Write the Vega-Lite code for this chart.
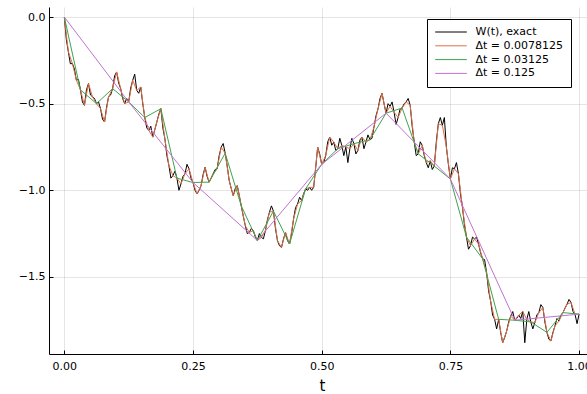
{
"$schema":"https://vega.github.io/schema/vega-lite/v6.json",
"autosize":{"type":"none"},
"padding":{"left":49,"top":7,"right":0,"bottom":40},
"width":538,"height":347,
"background":"white",
"config":{
"view":{"stroke":null},
"font":"DejaVu Sans",
"axis":{"labelFont":"DejaVu Sans","labelFontSize":11,"labelColor":"#000","domainColor":"#000","domainWidth":1,"tickColor":"#000","tickSize":-4,"gridColor":"#000","gridOpacity":0.1,"gridWidth":1,"titleFont":"DejaVu Sans","titleFontSize":15,"titleFontWeight":"normal","titleColor":"#000"},
"axisX":{"titleX":273,"titleY":36,"titleBaseline":"alphabetic","labelPadding":10},
"axisY":{"labelPadding":8},
"legend":{"labelFont":"DejaVu Sans","labelFontSize":11,"labelColor":"#000"}
},
"datasets":{
"exact":[
{"t":0,"W":0},{"t":0.00391,"W":-0.13},{"t":0.00781,"W":-0.20},{"t":0.01172,"W":-0.27},{"t":0.01563,"W":-0.268},{"t":0.01953,"W":-0.30},{"t":0.02344,"W":-0.365},{"t":0.02734,"W":-0.36},{"t":0.03125,"W":-0.42},{"t":0.03516,"W":-0.49},{"t":0.03906,"W":-0.51},{"t":0.04297,"W":-0.42},{"t":0.04688,"W":-0.384},{"t":0.05078,"W":-0.45},{"t":0.05469,"W":-0.46},{"t":0.05859,"W":-0.47},
{"t":0.0625,"W":-0.50},{"t":0.06641,"W":-0.49},{"t":0.07031,"W":-0.529},{"t":0.07422,"W":-0.59},{"t":0.07813,"W":-0.606},{"t":0.08203,"W":-0.52},{"t":0.08594,"W":-0.46},{"t":0.08984,"W":-0.45},{"t":0.09375,"W":-0.413},{"t":0.09766,"W":-0.34},{"t":0.10156,"W":-0.317},{"t":0.10547,"W":-0.38},{"t":0.10938,"W":-0.413},{"t":0.11328,"W":-0.47},{"t":0.11719,"W":-0.50},{"t":0.12109,"W":-0.47},
{"t":0.125,"W":-0.49},{"t":0.12891,"W":-0.41},{"t":0.13281,"W":-0.365},{"t":0.13672,"W":-0.33},{"t":0.14063,"W":-0.423},{"t":0.14453,"W":-0.44},{"t":0.14844,"W":-0.404},{"t":0.15234,"W":-0.50},{"t":0.15625,"W":-0.58},{"t":0.16016,"W":-0.64},{"t":0.16406,"W":-0.654},{"t":0.16797,"W":-0.63},{"t":0.17188,"W":-0.693},{"t":0.17578,"W":-0.65},{"t":0.17969,"W":-0.606},{"t":0.18359,"W":-0.56},
{"t":0.1875,"W":-0.529},{"t":0.19141,"W":-0.64},{"t":0.19531,"W":-0.702},{"t":0.19922,"W":-0.80},{"t":0.20313,"W":-0.857},{"t":0.20703,"W":-0.93},{"t":0.21094,"W":-0.915},{"t":0.21484,"W":-0.89},{"t":0.21875,"W":-0.93},{"t":0.22266,"W":-1.00},{"t":0.22656,"W":-0.963},{"t":0.23047,"W":-0.92},{"t":0.23438,"W":-0.905},{"t":0.23828,"W":-0.85},{"t":0.24219,"W":-0.876},{"t":0.24609,"W":-0.93},
{"t":0.25,"W":-0.955},{"t":0.25391,"W":-1.00},{"t":0.25781,"W":-1.021},{"t":0.26172,"W":-1.00},{"t":0.26563,"W":-0.973},{"t":0.26953,"W":-0.91},{"t":0.27344,"W":-0.867},{"t":0.27734,"W":-0.92},{"t":0.28125,"W":-0.953},{"t":0.28516,"W":-0.93},{"t":0.28906,"W":-0.905},{"t":0.29297,"W":-0.88},{"t":0.29688,"W":-0.876},{"t":0.30078,"W":-0.80},{"t":0.30469,"W":-0.751},{"t":0.30859,"W":-0.73},
{"t":0.3125,"W":-0.786},{"t":0.31641,"W":-0.86},{"t":0.32031,"W":-0.944},{"t":0.32422,"W":-0.99},{"t":0.32813,"W":-1.031},{"t":0.33203,"W":-0.99},{"t":0.33594,"W":-0.973},{"t":0.33984,"W":-1.03},{"t":0.34375,"W":-1.09},{"t":0.34766,"W":-1.15},{"t":0.35156,"W":-1.204},{"t":0.35547,"W":-1.25},{"t":0.35938,"W":-1.243},{"t":0.36328,"W":-1.22},{"t":0.36719,"W":-1.233},{"t":0.37109,"W":-1.27},
{"t":0.375,"W":-1.29},{"t":0.37891,"W":-1.25},{"t":0.38281,"W":-1.272},{"t":0.38672,"W":-1.28},{"t":0.39063,"W":-1.233},{"t":0.39453,"W":-1.17},{"t":0.39844,"W":-1.127},{"t":0.40234,"W":-1.09},{"t":0.40625,"W":-1.12},{"t":0.41016,"W":-1.22},{"t":0.41406,"W":-1.291},{"t":0.41797,"W":-1.32},{"t":0.42188,"W":-1.33},{"t":0.42578,"W":-1.28},{"t":0.42969,"W":-1.243},{"t":0.43359,"W":-1.29},
{"t":0.4375,"W":-1.31},{"t":0.44141,"W":-1.25},{"t":0.44531,"W":-1.166},{"t":0.44922,"W":-1.10},{"t":0.45313,"W":-1.079},{"t":0.45703,"W":-1.04},{"t":0.46094,"W":-1.06},{"t":0.46484,"W":-1.02},{"t":0.46875,"W":-0.992},{"t":0.47266,"W":-1.00},{"t":0.47656,"W":-0.983},{"t":0.48047,"W":-1.00},{"t":0.48438,"W":-0.983},{"t":0.48828,"W":-0.87},{"t":0.49219,"W":-0.751},{"t":0.49609,"W":-0.79},
{"t":0.5,"W":-0.85},{"t":0.50391,"W":-0.84},{"t":0.50781,"W":-0.799},{"t":0.51172,"W":-0.72},{"t":0.51563,"W":-0.693},{"t":0.51953,"W":-0.74},{"t":0.52344,"W":-0.722},{"t":0.52734,"W":-0.77},{"t":0.53125,"W":-0.76},{"t":0.53516,"W":-0.70},{"t":0.53906,"W":-0.741},{"t":0.54297,"W":-0.80},{"t":0.54688,"W":-0.75},{"t":0.55078,"W":-0.84},{"t":0.55469,"W":-0.76},{"t":0.55859,"W":-0.70},
{"t":0.5625,"W":-0.731},{"t":0.56641,"W":-0.79},{"t":0.57031,"W":-0.77},{"t":0.57422,"W":-0.71},{"t":0.57813,"W":-0.693},{"t":0.58203,"W":-0.76},{"t":0.58594,"W":-0.722},{"t":0.58984,"W":-0.68},{"t":0.59375,"W":-0.708},{"t":0.59766,"W":-0.70},{"t":0.60156,"W":-0.635},{"t":0.60547,"W":-0.57},{"t":0.60938,"W":-0.53},{"t":0.61328,"W":-0.47},{"t":0.61719,"W":-0.44},{"t":0.62109,"W":-0.50},
{"t":0.625,"W":-0.555},{"t":0.62891,"W":-0.50},{"t":0.63281,"W":-0.515},{"t":0.63672,"W":-0.49},{"t":0.64063,"W":-0.55},{"t":0.64453,"W":-0.62},{"t":0.64844,"W":-0.58},{"t":0.65234,"W":-0.53},{"t":0.65625,"W":-0.525},{"t":0.66016,"W":-0.50},{"t":0.66406,"W":-0.49},{"t":0.66797,"W":-0.47},{"t":0.67188,"W":-0.509},{"t":0.67578,"W":-0.63},{"t":0.67969,"W":-0.72},{"t":0.68359,"W":-0.80},
{"t":0.6875,"W":-0.79},{"t":0.69141,"W":-0.72},{"t":0.69531,"W":-0.741},{"t":0.69922,"W":-0.80},{"t":0.70313,"W":-0.84},{"t":0.70703,"W":-0.87},{"t":0.71094,"W":-0.83},{"t":0.71484,"W":-0.88},{"t":0.71875,"W":-0.86},{"t":0.72266,"W":-0.72},{"t":0.72656,"W":-0.616},{"t":0.73047,"W":-0.58},{"t":0.73438,"W":-0.625},{"t":0.73828,"W":-0.58},{"t":0.74219,"W":-0.75},{"t":0.74609,"W":-0.85},
{"t":0.75,"W":-0.935},{"t":0.75391,"W":-0.87},{"t":0.75781,"W":-0.876},{"t":0.76172,"W":-0.84},{"t":0.76563,"W":-0.905},{"t":0.76953,"W":-1.02},{"t":0.77344,"W":-1.098},{"t":0.77734,"W":-1.20},{"t":0.78125,"W":-1.27},{"t":0.78516,"W":-1.34},{"t":0.78906,"W":-1.32},{"t":0.79297,"W":-1.27},{"t":0.79688,"W":-1.281},{"t":0.80078,"W":-1.27},{"t":0.80469,"W":-1.31},{"t":0.80859,"W":-1.36},
{"t":0.8125,"W":-1.395},{"t":0.81641,"W":-1.40},{"t":0.82031,"W":-1.475},{"t":0.82422,"W":-1.58},{"t":0.82813,"W":-1.639},{"t":0.83203,"W":-1.72},{"t":0.83594,"W":-1.745},{"t":0.83984,"W":-1.80},{"t":0.84375,"W":-1.745},{"t":0.84766,"W":-1.82},{"t":0.85156,"W":-1.88},{"t":0.85547,"W":-1.85},{"t":0.85938,"W":-1.812},{"t":0.86328,"W":-1.76},{"t":0.86719,"W":-1.726},{"t":0.87109,"W":-1.70},
{"t":0.875,"W":-1.75},{"t":0.87891,"W":-1.74},{"t":0.88281,"W":-1.72},{"t":0.88672,"W":-1.74},{"t":0.89063,"W":-1.70},{"t":0.89453,"W":-1.88},{"t":0.89844,"W":-1.745},{"t":0.90234,"W":-1.70},{"t":0.90625,"W":-1.76},{"t":0.91016,"W":-1.80},{"t":0.91406,"W":-1.764},{"t":0.91797,"W":-1.72},{"t":0.92188,"W":-1.706},{"t":0.92578,"W":-1.66},{"t":0.92969,"W":-1.677},{"t":0.93359,"W":-1.76},
{"t":0.9375,"W":-1.82},{"t":0.94141,"W":-1.86},{"t":0.94531,"W":-1.87},{"t":0.94922,"W":-1.82},{"t":0.95313,"W":-1.783},{"t":0.95703,"W":-1.74},{"t":0.96094,"W":-1.755},{"t":0.96484,"W":-1.72},{"t":0.96875,"W":-1.706},{"t":0.97266,"W":-1.68},{"t":0.97656,"W":-1.658},{"t":0.98047,"W":-1.63},{"t":0.98438,"W":-1.648},{"t":0.98828,"W":-1.70},{"t":0.99219,"W":-1.716},{"t":0.99609,"W":-1.77},
{"t":1,"W":-1.715}
],
"d128":[
{"t":0,"W":0},{"t":0.00781,"W":-0.20},{"t":0.01563,"W":-0.268},{"t":0.02344,"W":-0.365},{"t":0.03125,"W":-0.42},{"t":0.03906,"W":-0.51},{"t":0.04688,"W":-0.384},{"t":0.05469,"W":-0.46},
{"t":0.0625,"W":-0.50},{"t":0.07031,"W":-0.529},{"t":0.07813,"W":-0.606},{"t":0.08594,"W":-0.46},{"t":0.09375,"W":-0.413},{"t":0.10156,"W":-0.317},{"t":0.10938,"W":-0.413},{"t":0.11719,"W":-0.50},
{"t":0.125,"W":-0.49},{"t":0.13281,"W":-0.365},{"t":0.14063,"W":-0.423},{"t":0.14844,"W":-0.404},{"t":0.15625,"W":-0.58},{"t":0.16406,"W":-0.654},{"t":0.17188,"W":-0.693},{"t":0.17969,"W":-0.606},
{"t":0.1875,"W":-0.529},{"t":0.19531,"W":-0.702},{"t":0.20313,"W":-0.857},{"t":0.21094,"W":-0.915},{"t":0.21875,"W":-0.93},{"t":0.22656,"W":-0.963},{"t":0.23438,"W":-0.905},{"t":0.24219,"W":-0.876},
{"t":0.25,"W":-0.955},{"t":0.25781,"W":-1.021},{"t":0.26563,"W":-0.973},{"t":0.27344,"W":-0.867},{"t":0.28125,"W":-0.953},{"t":0.28906,"W":-0.905},{"t":0.29688,"W":-0.876},{"t":0.30469,"W":-0.751},
{"t":0.3125,"W":-0.786},{"t":0.32031,"W":-0.944},{"t":0.32813,"W":-1.031},{"t":0.33594,"W":-0.973},{"t":0.34375,"W":-1.09},{"t":0.35156,"W":-1.204},{"t":0.35938,"W":-1.243},{"t":0.36719,"W":-1.233},
{"t":0.375,"W":-1.29},{"t":0.38281,"W":-1.272},{"t":0.39063,"W":-1.233},{"t":0.39844,"W":-1.127},{"t":0.40625,"W":-1.12},{"t":0.41406,"W":-1.291},{"t":0.42188,"W":-1.33},{"t":0.42969,"W":-1.243},
{"t":0.4375,"W":-1.31},{"t":0.44531,"W":-1.166},{"t":0.45313,"W":-1.079},{"t":0.46094,"W":-1.06},{"t":0.46875,"W":-0.992},{"t":0.47656,"W":-0.983},{"t":0.48438,"W":-0.983},{"t":0.49219,"W":-0.751},
{"t":0.5,"W":-0.85},{"t":0.50781,"W":-0.799},{"t":0.51563,"W":-0.693},{"t":0.52344,"W":-0.722},{"t":0.53125,"W":-0.76},{"t":0.53906,"W":-0.741},{"t":0.54688,"W":-0.75},{"t":0.55469,"W":-0.76},
{"t":0.5625,"W":-0.731},{"t":0.57031,"W":-0.77},{"t":0.57813,"W":-0.693},{"t":0.58594,"W":-0.722},{"t":0.59375,"W":-0.708},{"t":0.60156,"W":-0.635},{"t":0.60938,"W":-0.53},{"t":0.61719,"W":-0.44},
{"t":0.625,"W":-0.555},{"t":0.63281,"W":-0.515},{"t":0.64063,"W":-0.55},{"t":0.64844,"W":-0.58},{"t":0.65625,"W":-0.525},{"t":0.66406,"W":-0.49},{"t":0.67188,"W":-0.509},{"t":0.67969,"W":-0.72},
{"t":0.6875,"W":-0.79},{"t":0.69531,"W":-0.741},{"t":0.70313,"W":-0.84},{"t":0.71094,"W":-0.83},{"t":0.71875,"W":-0.86},{"t":0.72656,"W":-0.616},{"t":0.73438,"W":-0.625},{"t":0.74219,"W":-0.75},
{"t":0.75,"W":-0.935},{"t":0.75781,"W":-0.876},{"t":0.76563,"W":-0.905},{"t":0.77344,"W":-1.098},{"t":0.78125,"W":-1.27},{"t":0.78906,"W":-1.32},{"t":0.79688,"W":-1.281},{"t":0.80469,"W":-1.31},
{"t":0.8125,"W":-1.395},{"t":0.82031,"W":-1.475},{"t":0.82813,"W":-1.639},{"t":0.83594,"W":-1.745},{"t":0.84375,"W":-1.745},{"t":0.85156,"W":-1.88},{"t":0.85938,"W":-1.812},{"t":0.86719,"W":-1.726},
{"t":0.875,"W":-1.75},{"t":0.88281,"W":-1.72},{"t":0.89063,"W":-1.70},{"t":0.89844,"W":-1.745},{"t":0.90625,"W":-1.76},{"t":0.91406,"W":-1.764},{"t":0.92188,"W":-1.706},{"t":0.92969,"W":-1.677},
{"t":0.9375,"W":-1.82},{"t":0.94531,"W":-1.87},{"t":0.95313,"W":-1.783},{"t":0.96094,"W":-1.755},{"t":0.96875,"W":-1.706},{"t":0.97656,"W":-1.658},{"t":0.98438,"W":-1.648},{"t":0.99219,"W":-1.716},
{"t":1,"W":-1.715}
],
"d32":[
{"t":0,"W":0},{"t":0.03125,"W":-0.42},{"t":0.0625,"W":-0.50},{"t":0.09375,"W":-0.413},{"t":0.125,"W":-0.49},{"t":0.15625,"W":-0.58},{"t":0.1875,"W":-0.529},{"t":0.21875,"W":-0.93},
{"t":0.25,"W":-0.955},{"t":0.28125,"W":-0.953},{"t":0.3125,"W":-0.786},{"t":0.34375,"W":-1.09},{"t":0.375,"W":-1.29},{"t":0.40625,"W":-1.12},{"t":0.4375,"W":-1.31},{"t":0.46875,"W":-0.992},
{"t":0.5,"W":-0.85},{"t":0.53125,"W":-0.76},{"t":0.5625,"W":-0.731},{"t":0.59375,"W":-0.708},{"t":0.625,"W":-0.555},{"t":0.65625,"W":-0.525},{"t":0.6875,"W":-0.79},{"t":0.71875,"W":-0.86},
{"t":0.75,"W":-0.935},{"t":0.78125,"W":-1.27},{"t":0.8125,"W":-1.395},{"t":0.84375,"W":-1.745},{"t":0.875,"W":-1.75},{"t":0.90625,"W":-1.76},{"t":0.9375,"W":-1.82},{"t":0.96875,"W":-1.706},
{"t":1,"W":-1.715}
],
"d8":[
{"t":0,"W":0},{"t":0.125,"W":-0.49},{"t":0.25,"W":-0.955},{"t":0.375,"W":-1.29},{"t":0.5,"W":-0.85},{"t":0.625,"W":-0.555},{"t":0.75,"W":-0.935},{"t":0.875,"W":-1.75},{"t":1,"W":-1.715}
]
},
"layer":[
{"data":{"name":"exact"},"mark":{"type":"line","strokeWidth":1},
"encoding":{
"x":{"field":"t","type":"quantitative","scale":{"domain":[-0.0298,1.0154],"nice":false,"zero":false},"axis":{"values":[0,0.25,0.5,0.75,1],"format":".2f","title":"t","grid":true}},
"y":{"field":"W","type":"quantitative","scale":{"domain":[-1.945,0.058],"nice":false,"zero":false},"axis":{"values":[0,-0.5,-1,-1.5],"format":".1f","title":null,"grid":true}},
"color":{"datum":"W(t), exact","type":"nominal","scale":{"domain":["W(t), exact","Δt = 0.0078125","Δt = 0.03125","Δt = 0.125"],"range":["#000000","#e26f46","#3da44d","#c271d2"]},
"legend":{"title":null,"orient":"none","legendX":378,"legendY":12,"symbolType":"stroke","symbolSize":1000,"symbolStrokeWidth":1,"clipHeight":11,"labelFontSize":11,"labelOffset":8,"strokeColor":"#000","fillColor":"#fff","padding":7.5,"rowPadding":1.8,"cornerRadius":0}}}},
{"data":{"name":"d128"},"mark":{"type":"line","strokeWidth":1},
"encoding":{"x":{"field":"t","type":"quantitative","scale":{"domain":[-0.0298,1.0154],"nice":false,"zero":false}},"y":{"field":"W","type":"quantitative","scale":{"domain":[-1.945,0.058],"nice":false,"zero":false}},"color":{"datum":"Δt = 0.0078125","type":"nominal"}}},
{"data":{"name":"d32"},"mark":{"type":"line","strokeWidth":1},
"encoding":{"x":{"field":"t","type":"quantitative","scale":{"domain":[-0.0298,1.0154],"nice":false,"zero":false}},"y":{"field":"W","type":"quantitative","scale":{"domain":[-1.945,0.058],"nice":false,"zero":false}},"color":{"datum":"Δt = 0.03125","type":"nominal"}}},
{"data":{"name":"d8"},"mark":{"type":"line","strokeWidth":1},
"encoding":{"x":{"field":"t","type":"quantitative","scale":{"domain":[-0.0298,1.0154],"nice":false,"zero":false}},"y":{"field":"W","type":"quantitative","scale":{"domain":[-1.945,0.058],"nice":false,"zero":false}},"color":{"datum":"Δt = 0.125","type":"nominal"}}}
]
}
